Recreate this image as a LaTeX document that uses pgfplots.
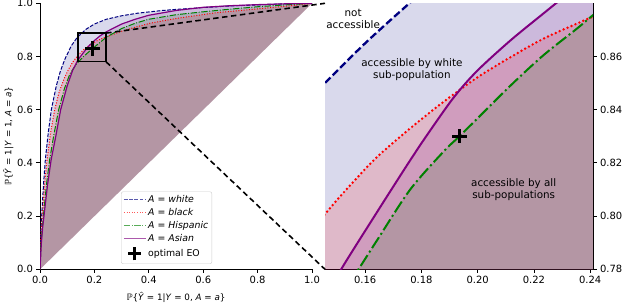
\documentclass[border=0pt]{standalone}
\usepackage{pgfplots}
\pgfplotsset{compat=1.18}
\usepackage{pgfplotstable}
\usepackage{fontspec}
\setmainfont{DejaVu Sans}
\definecolor{cW}{HTML}{000080}
\definecolor{cB}{HTML}{FF0000}
\definecolor{cH}{HTML}{008000}
\definecolor{cA}{HTML}{800080}

% ---------- full ROC curves (left panel) ----------
\pgfplotstableread{
x y
0 0
0.002 0.12
0.0074 0.224
0.013 0.32
0.0196 0.412
0.03 0.51
0.0417 0.6
0.06 0.69
0.075 0.745
0.091 0.789
0.115 0.84
0.137 0.872
0.17 0.903
0.2 0.922
0.244 0.94
0.3 0.953
0.36 0.963
0.45 0.973
0.5 0.977
0.6 0.984
0.7 0.99
0.8 0.994
0.9 0.998
1 1
}\whiteL
\pgfplotstableread{
x y
0 0
0.002 0.1
0.005 0.16
0.0098 0.224
0.017 0.32
0.026 0.412
0.04 0.52
0.054 0.6
0.07 0.665
0.09 0.72
0.105 0.752
0.121 0.78
0.14 0.805
0.165 0.83
0.19 0.848
0.215 0.862
0.244 0.874
0.3 0.895
0.35 0.91
0.404 0.925
0.5 0.943
0.65 0.965
0.8 0.979
0.895 0.988
1 1
}\blackL
\pgfplotstableread{
x y
0 0
0.004 0.1
0.009 0.16
0.0147 0.224
0.024 0.32
0.0355 0.412
0.05 0.5
0.0686 0.6
0.09 0.68
0.11 0.735
0.134 0.772
0.16 0.8
0.1935 0.83
0.22 0.8525
0.244 0.8725
0.3 0.905
0.35 0.925
0.4 0.94
0.5 0.957
0.6 0.968
0.7 0.978
0.8 0.987
0.9 0.994
1 1
}\hispL
\pgfplotstableread{
x y
0 0
0.005 0.1
0.01 0.16
0.0172 0.224
0.028 0.32
0.041 0.412
0.058 0.5
0.076 0.6
0.1 0.69
0.12 0.748
0.14 0.788
0.16 0.815
0.18 0.84
0.2 0.86
0.22 0.877
0.244 0.893
0.3 0.922
0.35 0.94
0.4 0.955
0.5 0.973
0.6 0.985
0.7 0.991
0.8 0.995
0.9 0.998
1 1
}\asianL

% ---------- zoomed curves (right panel) ----------
\pgfplotstableread{
x y
0.13 0.833
0.1457 0.850
0.16 0.865
0.1757 0.880
0.19 0.893
0.21 0.908
0.25 0.935
}\whiteR
\pgfplotstableread{
x y
0.13 0.7804
0.1458 0.8009
0.155 0.812
0.1642 0.8222
0.176 0.8330
0.1879 0.8430
0.1997 0.8520
0.2116 0.8597
0.2234 0.8667
0.2377 0.8735
0.25 0.879
}\blackR
\pgfplotstableread{
x y
0.15 0.768
0.1576 0.780
0.1642 0.7909
0.176 0.8100
0.1879 0.8243
0.1935 0.830
0.1997 0.8365
0.2116 0.8490
0.2234 0.8605
0.2353 0.8705
0.2406 0.8752
0.25 0.883
}\hispR
\pgfplotstableread{
x y
0.145 0.768
0.1523 0.7815
0.1642 0.8015
0.1701 0.8113
0.176 0.8210
0.182 0.8305
0.1914 0.8445
0.1997 0.8545
0.2116 0.8660
0.2234 0.8762
0.2276 0.8798
0.24 0.890
0.25 0.898
}\asianR

\tikzset{
  lwL/.style={cW, line width=1bp, dash pattern=on 3.7bp off 1.6bp},
  lbL/.style={cB, line width=1bp, dash pattern=on 1bp off 1.65bp},
  lhL/.style={cH, line width=1bp, dash pattern=on 6.4bp off 1.6bp on 1bp off 1.6bp},
  laL/.style={cA, line width=1.2bp},
  lwR/.style={cW, line width=2.3bp, dash pattern=on 7.4bp off 3.2bp},
  lbR/.style={cB, line width=2.7bp, line cap=round, dash pattern=on 0bp off 4.3bp},
  lhR/.style={cH, line width=2bp, dash pattern=on 12.8bp off 3.2bp on 2bp off 3.2bp},
  laR/.style={cA, line width=2bp},
  eo/.style={black, only marks, mark=+, mark size=7.2bp, mark options={line width=3.3bp}},
}
\pgfplotsset{
  myax/.style={scale only axis, axis line style={black, line width=0.8bp},
    tick style={black, line width=0.8bp}, major tick length=3.5bp, tick align=outside,
    ticklabel style={font=\fontsize{10}{12}\selectfont},
    /pgf/number format/assume math mode=true,
    /pgf/number format/fixed, /pgf/number format/fixed zerofill},
  longleg/.style={legend image code/.code={\draw[##1] (0cm,0cm) -- (0.78cm,0cm);}},
}

\begin{document}
\begin{tikzpicture}
\path[use as bounding box] (0,0) rectangle (623bp,306bp);
\begin{axis}[myax, name=L, at={(40bp,36.7bp)}, anchor=south west,
  width=272bp, height=266bp, xmin=0, xmax=1, ymin=0, ymax=1,
  axis x line*=bottom, axis y line*=left, tick align=outside,
  xtick={0,0.2,0.4,0.6,0.8,1}, ytick={0,0.2,0.4,0.6,0.8,1},
  /pgf/number format/precision=1,
  xlabel={\fontsize{8.8}{10}\selectfont ℙ\{\textit{Ŷ} = 1|\textit{Y} = 0, \textit{A} = \textit{a}\}},
  ylabel={\fontsize{8.8}{10}\selectfont ℙ\{\textit{Ŷ} = 1|\textit{Y} = 1, \textit{A} = \textit{a}\}},
  xlabel style={at={(axis description cs:0.5,-0.104)}, anchor=center},
  ylabel style={at={(axis description cs:-0.116,0.5)}, anchor=center},
  legend cell align=left,
  legend style={at={(0.298,0.02)}, anchor=south west, draw=black!20, rounded corners=2bp,
    fill=white, fill opacity=0.8, text opacity=1, draw opacity=1,
    font=\fontsize{9.4}{11}\selectfont, inner sep=2bp, row sep=1.2bp,
    nodes={inner sep=1.6bp}},
]
\addplot[draw=none, fill=cW, fill opacity=0.15, forget plot] table {\whiteL} -- cycle;
\addplot[draw=none, fill=cB, fill opacity=0.15, forget plot] table {\blackL} -- cycle;
\addplot[draw=none, fill=cH, fill opacity=0.15, forget plot] table {\hispL} -- cycle;
\addplot[draw=none, fill=cA, fill opacity=0.15, forget plot] table {\asianL} -- cycle;
\addplot[lwL, forget plot] table {\whiteL};
\addplot[lbL, forget plot] table {\blackL};
\addplot[lhL, forget plot] table {\hispL};
\addplot[laL, forget plot] table {\asianL};
\draw[black, line width=1.3bp] (axis cs:0.14,0.78) rectangle (axis cs:0.243,0.888);
\coordinate (bTR) at (axis cs:0.243,0.888);
\coordinate (bBR) at (axis cs:0.243,0.78);
\addplot[eo, forget plot] coordinates {(0.1935,0.83)};
\addlegendimage{lwL, opacity=0.65, longleg}
\addlegendentry{\textit{A} = \textit{white}}
\addlegendimage{lbL, opacity=0.65, longleg}
\addlegendentry{\textit{A} = \textit{black}}
\addlegendimage{lhL, opacity=0.65, longleg}
\addlegendentry{\textit{A} = \textit{Hispanic}}
\addlegendimage{laL, opacity=0.65, longleg}
\addlegendentry{\textit{A} = \textit{Asian}}
\addlegendimage{legend image code/.code={\draw[black, line width=3bp] (0.39cm-6.5bp,0cm) -- (0.39cm+6.5bp,0cm) (0.39cm,-6.5bp) -- (0.39cm,6.5bp);}}
\addlegendentry{optimal EO}
\end{axis}

\begin{axis}[myax, name=R, at={(325bp,36.7bp)}, anchor=south west,
  width=268bp, height=266bp, xmin=0.1457, xmax=0.241, ymin=0.78, ymax=0.88,
  axis x line*=bottom, axis y line*=right, tick align=outside,
  xtick={0.16,0.18,0.20,0.22,0.24}, ytick={0.78,0.80,0.82,0.84,0.86},
  /pgf/number format/precision=2,
]
\addplot[smooth, draw=none, fill=cW, fill opacity=0.15] table {\whiteR} -- (axis cs:0.25,0.70) -- (axis cs:0.13,0.70) -- cycle;
\addplot[smooth, draw=none, fill=cB, fill opacity=0.15] table {\blackR} -- (axis cs:0.25,0.70) -- (axis cs:0.13,0.70) -- cycle;
\addplot[smooth, draw=none, fill=cH, fill opacity=0.15] table {\hispR} -- (axis cs:0.25,0.70) -- (axis cs:0.15,0.70) -- cycle;
\addplot[smooth, draw=none, fill=cA, fill opacity=0.15] table {\asianR} -- (axis cs:0.25,0.70) -- (axis cs:0.145,0.70) -- cycle;
\addplot[lwR, smooth] table {\whiteR};
\addplot[lbR, smooth] table {\blackR};
\addplot[lhR, smooth] table {\hispR};
\addplot[laR, smooth] table {\asianR};
\addplot[eo] coordinates {(0.1935,0.83)};
\node[align=center, font=\fontsize{10.4}{12}\selectfont] at (axis cs:0.1557,0.8743) {not\\accessible};
\node[align=center, font=\fontsize{10.4}{12}\selectfont] at (axis cs:0.1766,0.8551) {accessible by white\\sub-population};
\node[align=center, font=\fontsize{10.4}{12}\selectfont] at (axis cs:0.2128,0.8101) {accessible by all\\sub-populations};
\coordinate (rTL) at (rel axis cs:0,1);
\coordinate (rBL) at (rel axis cs:0,0);
\end{axis}
\draw[black, line width=1.6bp, dash pattern=on 5.5bp off 3.5bp] (bTR) -- (rTL);
\draw[black, line width=1.6bp, dash pattern=on 5.5bp off 3.5bp] (bBR) -- (rBL);
\end{tikzpicture}
\end{document}
